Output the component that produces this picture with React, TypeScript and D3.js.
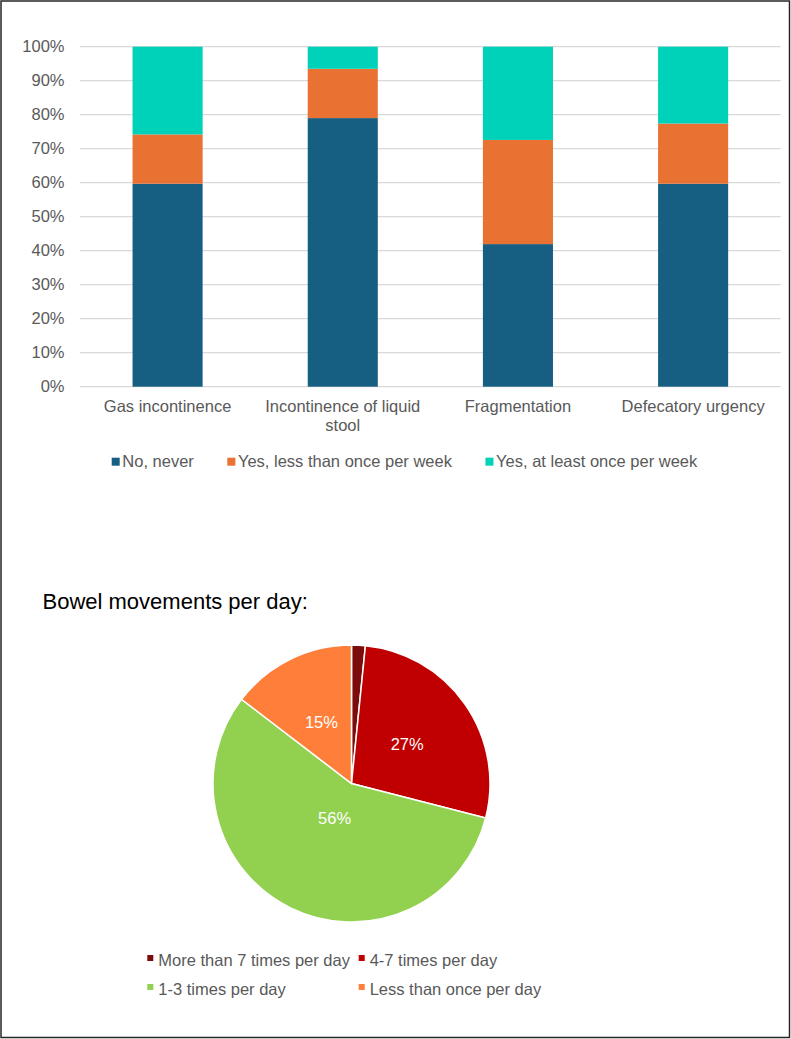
import * as d3 from 'd3';

// Stacked bar data (share of respondents, %)
const CATEGORIES = ['Gas incontinence', 'Incontinence of liquid stool', 'Fragmentation', 'Defecatory urgency'];
const NO_NEVER = [59.7, 79.0, 41.9, 59.7];
const LESS_THAN_WEEKLY = [14.5, 14.5, 30.6, 17.7];
const AT_LEAST_WEEKLY = [25.8, 6.5, 27.4, 22.6];
const SERIES_NAMES = ['No, never', 'Yes, less than once per week', 'Yes, at least once per week'];
const SERIES_COLORS = ['#175f82', '#e97132', '#00d1b9'];

// Pie data (%)
const PIE_TITLE = 'Bowel movements per day:';
const PIE_NAMES = ['More than 7 times per day', '4-7 times per day', '1-3 times per day', 'Less than once per day'];
const PIE_VALUES = [1.6, 27.4, 56.4, 14.6];
const PIE_COLORS = ['#7c0c0c', '#c00000', '#92d050', '#ff7f3a'];
// label distance from centre, as a fraction of the radius
const PIE_LABEL_R = [0.49, 0.49, 0.28, 0.49];

const W = 791;
const H = 1039;
const FONT = '"Liberation Sans", Arial, sans-serif';
const TEXT = '#595959';

const ctx = document.createElement('canvas').getContext('2d')!;
function measure(text: string, size: number) {
  ctx.font = `${size}px "Liberation Sans"`;
  return ctx.measureText(text).width;
}

function wrap(text: string, maxW: number, size: number) {
  const lines: string[] = [];
  let cur = '';
  for (const w of text.split(' ')) {
    const next = cur ? cur + ' ' + w : w;
    if (cur && measure(next, size) > maxW) {
      lines.push(cur);
      cur = w;
    } else cur = next;
  }
  if (cur) lines.push(cur);
  return lines;
}

function StackedBars() {
  const left = 80, right = 780.7, top = 46.7, bottom = 386.7;
  const rows = CATEGORIES.map((c, i) => ({
    cat: c,
    never: NO_NEVER[i],
    less: LESS_THAN_WEEKLY[i],
    weekly: AT_LEAST_WEEKLY[i],
  }));
  const keys = ['never', 'less', 'weekly'];
  const stacked = d3.stack<any>().keys(keys).offset(d3.stackOffsetExpand)(rows);

  const x = d3.scaleBand().domain(CATEGORIES).range([left, right]).paddingInner(0.6).paddingOuter(0.3);
  const y = d3.scaleLinear().domain([0, 1]).range([bottom, top]);
  const fmt = d3.format('.0%');

  // legend laid out left to right
  let lx = 111.7;
  const legend = SERIES_NAMES.map((name, i) => {
    const item = { name, x: lx, color: SERIES_COLORS[i] };
    lx += 10.6 + measure(name, 16.5) + 33.5;
    return item;
  });

  return (
    <g>
      {y.ticks(10).map(t => (
        <g key={t}>
          <line x1={left} x2={right} y1={y(t)} y2={y(t)} stroke="#d9d9d9" strokeWidth={1.3} />
          <text x={64.5} y={y(t)} dy="0.35em" textAnchor="end" fontSize={16.5} fill={TEXT}>
            {fmt(t)}
          </text>
        </g>
      ))}
      {stacked.map((s, si) => (
        <g key={s.key} fill={SERIES_COLORS[si]}>
          {s.map((d, i) => (
            <rect
              key={i}
              x={x(CATEGORIES[i])}
              width={x.bandwidth()}
              y={y(d[1])}
              height={y(d[0]) - y(d[1])}
            />
          ))}
        </g>
      ))}
      {CATEGORIES.map(c => (
        <text key={c} textAnchor="middle" fontSize={16.5} fill={TEXT}>
          {wrap(c, x.step(), 16.5).map((line, li) => (
            <tspan key={li} x={x(c)! + x.bandwidth() / 2} y={411.7 + li * 19}>
              {line}
            </tspan>
          ))}
        </text>
      ))}
      {legend.map(l => (
        <g key={l.name}>
          <rect x={l.x} y={457.7} width={8} height={8} fill={l.color} />
          <text x={l.x + 10.6} y={467} fontSize={16.5} fill={TEXT}>
            {l.name}
          </text>
        </g>
      ))}
    </g>
  );
}

function Pie() {
  const cx = 351.5, cy = 783.5, r = 138.5;
  const total = d3.sum(PIE_VALUES);
  const arcs = d3.pie<number>().sort(null)(PIE_VALUES);
  const arc = d3.arc<d3.PieArcDatum<number>>().innerRadius(0).outerRadius(r);

  return (
    <g>
      <text x={42.5} y={608.5} fontSize={22} fill="#000">
        {PIE_TITLE}
      </text>
      <g transform={`translate(${cx},${cy})`}>
        {arcs.map((a, i) => (
          <path key={i} d={arc(a)!} fill={PIE_COLORS[i]} stroke="#fff" strokeWidth={1.5} />
        ))}
        {arcs.map((a, i) => {
          const pct = (a.value / total) * 100;
          if (pct < 5) return null;
          const mid = (a.startAngle + a.endAngle) / 2;
          const lr = r * PIE_LABEL_R[i];
          return (
            <text
              key={i}
              x={lr * Math.sin(mid)}
              y={-lr * Math.cos(mid)}
              dy="0.35em"
              textAnchor="middle"
              fontSize={16.5}
              fill="#fff"
            >
              {Math.round(pct)}%
            </text>
          );
        })}
      </g>
      {PIE_NAMES.map((name, i) => {
        const col = i % 2, row = Math.floor(i / 2);
        const mx = 147.3 + col * 211.4;
        const by = 966 + row * 29;
        return (
          <g key={name}>
            <rect x={mx} y={by - 11} width={6} height={6} fill={PIE_COLORS[i]} />
            <text x={mx + 11} y={by} fontSize={16.5} fill={TEXT}>
              {name}
            </text>
          </g>
        );
      })}
    </g>
  );
}

export default function App() {
  return (
    <svg
      width={W}
      height={H}
      style={{ position: 'absolute', left: 0, top: 0, background: '#fff' }}
      fontFamily={FONT}
    >
      <rect x={0} y={0} width={W} height={H} fill="#fff" />
      <rect x={1} y={1} width={788.5} height={1036.5} fill="none" stroke="#262626" strokeWidth={1.5} />
      <StackedBars />
      <Pie />
    </svg>
  );
}
